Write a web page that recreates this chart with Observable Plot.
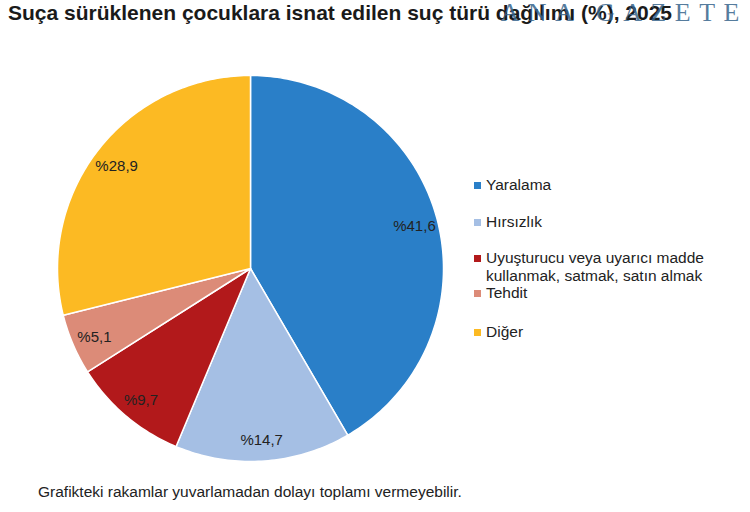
<!DOCTYPE html>
<html><head><meta charset="utf-8">
<script src="https://cdn.jsdelivr.net/npm/d3@7"></script>
<script src="https://cdn.jsdelivr.net/npm/@observablehq/plot@0.6"></script>
<style>
body{margin:0;background:#fff;font-family:"Liberation Sans",Arial,sans-serif;}
#wrap{position:relative;width:750px;height:512px;overflow:hidden;background:#fff;}
#title{position:absolute;left:8px;top:1px;font-weight:bold;font-size:21px;color:#1a1a1a;white-space:nowrap;}
#wm{position:absolute;right:2px;top:-2px;font-family:"Liberation Serif",serif;font-size:26px;color:rgba(55,100,140,0.85);letter-spacing:8.5px;white-space:nowrap;}
#chart{position:absolute;left:0;top:40px;}
.li{position:absolute;left:474px;font-size:15.5px;line-height:18px;color:#222;padding-left:12px;white-space:nowrap;}
.sw{position:absolute;left:0;top:6px;width:7px;height:7px;}
#caption{position:absolute;left:38px;top:483px;font-size:15.5px;color:#222;white-space:nowrap;}
</style></head>
<body>
<div id="wrap">
  <div id="title"></div>
  <div id="wm">ANA GAZETE</div>
  <div id="chart"></div>
  <div id="legend"></div>
  <div id="caption"></div>
</div>
<script>
const titleText = "Suça sürüklenen çocuklara isnat edilen suç türü dağılımı (%), 2025";
const captionText = "Grafikteki rakamlar yuvarlamadan dolayı toplamı vermeyebilir.";
const categories = ["Yaralama", "Hırsızlık", "Uyuşturucu veya uyarıcı madde kullanmak, satmak, satın almak", "Tehdit", "Diğer"];
const legendLines = [["Yaralama"], ["Hırsızlık"], ["Uyuşturucu veya uyarıcı madde", "kullanmak, satmak, satın almak"], ["Tehdit"], ["Diğer"]];
const values = [41.6, 14.7, 9.7, 5.1, 28.9];
const valueLabels = ["%41,6", "%14,7", "%9,7", "%5,1", "%28,9"];
const colors = ["#2a7fc8", "#a5bfe4", "#b2191b", "#dc8b78", "#fcba23"];

document.getElementById("title").textContent = titleText;
document.getElementById("caption").textContent = captionText;

const data = categories.map((c, i) => ({cat: c, value: values[i], label: valueLabels[i]}));
const arcs = d3.pie().sort(null).value(d => d.value)(data);

const pts = [];
const labs = [];
arcs.forEach(a => {
  const cat = a.data.cat;
  const n = Math.max(2, Math.ceil((a.endAngle - a.startAngle) / (Math.PI / 180)));
  pts.push({cat, x: 0, y: 0});
  for (let i = 0; i <= n; i++) {
    const t = a.startAngle + (a.endAngle - a.startAngle) * i / n;
    pts.push({cat, x: Math.sin(t), y: Math.cos(t)});
  }
  const m = (a.startAngle + a.endAngle) / 2;
  const r = 0.88;
  labs.push({x: r * Math.sin(m), y: r * Math.cos(m), label: a.data.label});
});

const plot = Plot.plot({
  width: 750,
  height: 440,
  margin: 0,
  style: {fontFamily: "'Liberation Sans', Arial, sans-serif", background: "transparent"},
  x: {domain: [-1, 1], range: [57, 443], axis: null},
  y: {domain: [-1, 1], range: [421, 35], axis: null},
  color: {domain: categories, range: colors},
  marks: [
    Plot.line(pts, {x: "x", y: "y", z: "cat", fill: "cat", stroke: "white", strokeWidth: 1.5, curve: "linear-closed"}),
    Plot.text(labs, {x: "x", y: "y", text: "label", fill: "#222", fontSize: 15, dy: 2})
  ]
});
document.getElementById("chart").appendChild(plot);

const legendTops = [176, 213, 249, 284, 323];
const legend = document.getElementById("legend");
legendLines.forEach((lines, i) => {
  const d = document.createElement("div");
  d.className = "li";
  d.style.top = legendTops[i] + "px";
  const sw = document.createElement("div");
  sw.className = "sw";
  sw.style.background = colors[i];
  d.appendChild(sw);
  lines.forEach((l, j) => {
    if (j) d.appendChild(document.createElement("br"));
    d.appendChild(document.createTextNode(l));
  });
  legend.appendChild(d);
});
</script>
</body></html>
